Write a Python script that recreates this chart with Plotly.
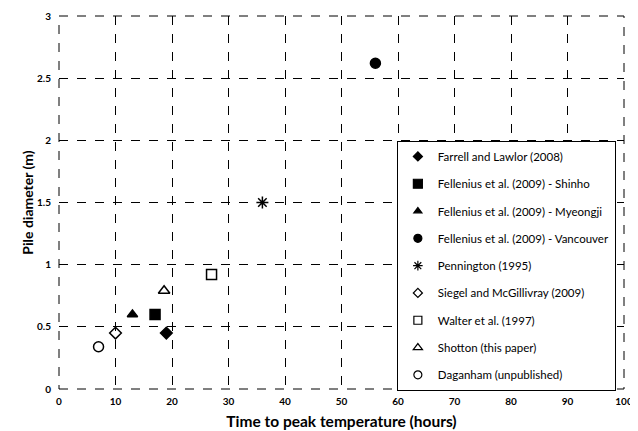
import plotly.graph_objects as go

series_names = [
    "Farrell and Lawlor (2008)",
    "Fellenius et al. (2009) - Shinho",
    "Fellenius et al. (2009) - Myeongji",
    "Fellenius et al. (2009) - Vancouver",
    "Pennington (1995)",
    "Siegel and McGillivray (2009)",
    "Walter et al. (1997)",
    "Shotton (this paper)",
    "Daganham (unpublished)",
]
time_to_peak = [19, 17, 13, 56, 36, 10, 27, 18.6, 7]
pile_diameter = [0.45, 0.6, 0.6, 2.62, 1.5, 0.45, 0.92, 0.79, 0.34]
symbols = ["diamond", "square", "triangle-up", "circle", "asterisk-open",
           "diamond-open", "square-open", "triangle-up-open", "circle-open"]
sizes = [9, 10, 9, 10, 10, 9, 10, 10, 10]
legend_sizes = [7, 9, 7, 8, 8, 7, 8, 8, 8]

x_ticks = [0, 10, 20, 30, 40, 50, 60, 70, 80, 90, 100]
y_ticks = [0, 0.5, 1, 1.5, 2, 2.5, 3]
y_tick_text = ["0", "0.5", "1", "1.5", "2", "2.5", "3"]

fig = go.Figure()
for i, name in enumerate(series_names):
    fig.add_trace(go.Scatter(
        x=[time_to_peak[i]], y=[pile_diameter[i]], mode="markers", name=name,
        showlegend=False,
        marker=dict(symbol=symbols[i], size=sizes[i], color="black",
                    line=dict(color="black", width=1.5)),
    ))
for i, name in enumerate(series_names):
    fig.add_trace(go.Scatter(
        x=[None], y=[None], mode="markers", name=name,
        legendgroup=f"g{i}", showlegend=True,
        marker=dict(symbol=symbols[i], size=legend_sizes[i], color="black",
                    line=dict(color="black", width=1.2)),
    ))

font_family = "Lato, Open Sans, sans-serif"
fig.update_layout(
    width=630, height=423,
    margin=dict(l=51, r=14, t=8, b=42),
    paper_bgcolor="white", plot_bgcolor="white",
    font=dict(family=font_family, color="black", size=10),
    showlegend=True,
    legend=dict(
        x=0.598, y=0.665, xanchor="left", yanchor="top",
        bgcolor="white", bordercolor="black", borderwidth=1,
        font=dict(size=11.5, family=font_family),
        traceorder="grouped", tracegroupgap=8.3, itemwidth=30,
    ),
    xaxis=dict(
        range=[0, 100], tickvals=x_ticks, ticktext=[str(t) for t in x_ticks],
        showgrid=True, gridcolor="black", griddash="dash", gridwidth=1,
        zeroline=False, showline=False, ticks="", ticklabelstandoff=5,
        automargin=False,
        tickfont=dict(size=10, family=font_family, weight="bold"),
        title=dict(text="<b>Time to peak temperature (hours)</b>",
                   font=dict(size=15.5, family=font_family), standoff=10),
    ),
    yaxis=dict(
        range=[0, 3], tickvals=y_ticks, ticktext=y_tick_text,
        showgrid=True, gridcolor="black", griddash="dash", gridwidth=1,
        zeroline=False, showline=False, ticks="", ticklabelstandoff=7,
        automargin=False,
        tickfont=dict(size=10, family=font_family, weight="bold"),
        title=dict(text="<b>Pile diameter (m)</b>",
                   font=dict(size=14, family=font_family), standoff=0),
    ),
    shapes=[dict(type="rect", xref="paper", yref="paper", x0=0, y0=0, x1=1, y1=1,
                 line=dict(color="black", width=1, dash="dash"), layer="below")],
)

fig.write_html("out.html")
